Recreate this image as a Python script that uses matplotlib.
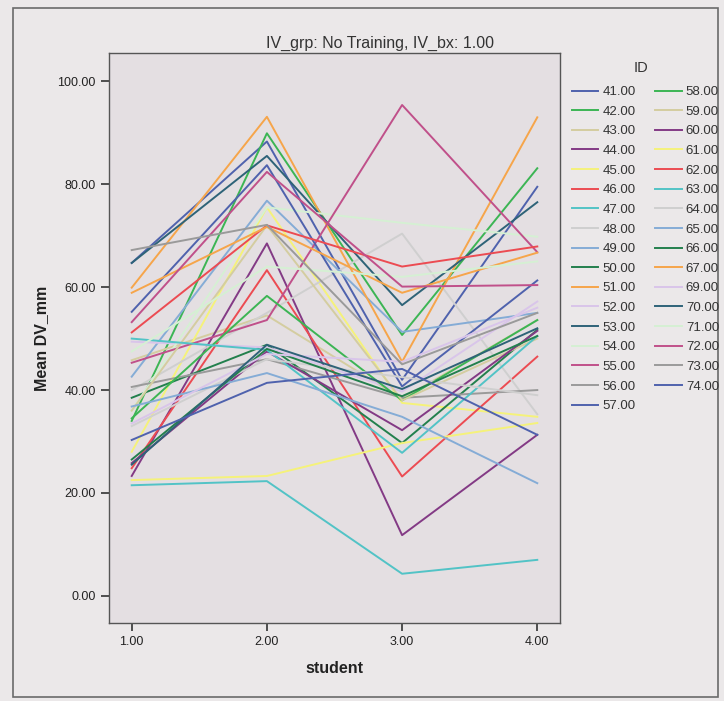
import matplotlib
matplotlib.use("Agg")
import matplotlib.pyplot as plt
from matplotlib.patches import Rectangle

plt.rcParams['font.family'] = ['Liberation Sans', 'DejaVu Sans']

# ---- data ----
student = [1, 2, 3, 4]
ids = ["41.00", "42.00", "43.00", "44.00", "45.00", "46.00", "47.00", "48.00",
       "49.00", "50.00", "51.00", "52.00", "53.00", "54.00", "55.00", "56.00",
       "57.00", "58.00", "59.00", "60.00", "61.00", "62.00", "63.00", "64.00",
       "65.00", "66.00", "67.00", "69.00", "70.00", "71.00", "72.00", "73.00",
       "74.00"]
values = {
    "41.00": [64.7, 88.3, 42.0, 79.5],
    "42.00": [34.0, 89.9, 50.7, 83.1],
    "43.00": [45.8, 54.5, 38.3, 53.6],
    "44.00": [23.3, 68.5, 11.8, 31.3],
    "45.00": [28.0, 75.5, 37.5, 34.8],
    "46.00": [24.8, 63.3, 23.2, 46.5],
    "47.00": [21.5, 22.3, 4.3, 7.0],
    "48.00": [40.0, 55.0, 70.4, 35.3],
    "49.00": [42.6, 76.8, 51.3, 55.0],
    "50.00": [38.5, 48.8, 29.7, 51.7],
    "51.00": [59.9, 93.1, 45.5, 93.0],
    "52.00": [49.4, 48.3, 39.7, 57.2],
    "53.00": [64.7, 85.5, 56.5, 76.5],
    "54.00": [36.0, 75.5, 72.5, 69.8],
    "55.00": [45.3, 53.6, 95.4, 66.8],
    "56.00": [40.6, 46.0, 38.5, 40.0],
    "57.00": [55.2, 83.7, 40.7, 61.3],
    "58.00": [34.5, 58.3, 38.0, 53.6],
    "59.00": [36.0, 72.0, 38.0, 50.0],
    "60.00": [25.8, 47.5, 32.2, 51.5],
    "61.00": [22.5, 23.3, 29.7, 33.6],
    "62.00": [51.2, 72.0, 64.0, 67.9],
    "63.00": [50.0, 47.8, 27.8, 50.5],
    "64.00": [33.0, 46.0, 42.5, 39.0],
    "65.00": [36.8, 43.3, 34.8, 21.9],
    "66.00": [26.5, 48.0, 38.8, 50.5],
    "67.00": [58.9, 71.7, 58.9, 66.7],
    "69.00": [33.5, 47.0, 45.5, 56.0],
    "70.00": [25.5, 48.8, 40.2, 52.0],
    "71.00": [47.5, 64.0, 62.0, 65.0],
    "72.00": [53.2, 82.4, 60.1, 60.4],
    "73.00": [67.2, 72.1, 45.0, 55.0],
    "74.00": [30.3, 41.4, 44.1, 31.3],
}
palette = ['#4f62ad', '#3cb554', '#d4cda0', '#833a85', '#f5f27a', '#ec4b52',
           '#52c3c6', '#cfcfcf', '#85acd6', '#23804d', '#f6a54a', '#d9c5ea',
           '#2e6378', '#d5f0d3', '#c0508a', '#9a9a9a']
xticks = [1, 2, 3, 4]
xticklabels = ["1.00", "2.00", "3.00", "4.00"]
yticks = [0, 20, 40, 60, 80, 100]
yticklabels = ["0.00", "20.00", "40.00", "60.00", "80.00", "100.00"]

# ---- figure ----
W, H = 724, 701
fig = plt.figure(figsize=(W / 100, H / 100), dpi=100)
fig.patch.set_facecolor('#ebe8e9')
fig.patches.append(Rectangle((13 / W, 1 - 697 / H), (718 - 13) / W, (697 - 8) / H,
                             transform=fig.transFigure, fill=False,
                             edgecolor='#6a6a6a', linewidth=1.2))

ax = fig.add_axes([109 / W, 1 - 623 / H, (560 - 109) / W, (623 - 53) / H])
ax.set_facecolor('#e4dfe2')

for i, k in enumerate(ids):
    ax.plot(student, values[k], color=palette[i % 16], linewidth=1.4, label=k)

ax.set_xlim(0.832, 4.168)
ax.set_ylim(-5.27, 105.5)
ax.set_xticks(xticks)
ax.set_xticklabels(xticklabels)
ax.set_yticks(yticks)
ax.set_yticklabels(yticklabels)
ax.tick_params(axis='both', direction='out', length=6, width=1.2,
               colors='#333333', labelsize=9, labelcolor='#222222')
for s in ax.spines.values():
    s.set_color('#555555')
    s.set_linewidth(1.0)

ax.set_xlabel("student", fontsize=11.5, fontweight='bold', color='#222222', labelpad=9)
ax.set_ylabel("Mean DV_mm", fontsize=11.5, fontweight='bold', color='#222222', labelpad=6)

fig.text(380 / W, 1 - 43 / H, "IV_grp: No Training, IV_bx: 1.00", ha='center',
         va='center', fontsize=11.5, color='#333333')

fig.text(641 / W, 1 - 68 / H, "ID", ha='center', va='center',
         fontsize=10.5, color='#333333')
leg = fig.legend(loc='upper left', bbox_to_anchor=(572 / W, 1 - 86 / H),
                 bbox_transform=fig.transFigure, ncol=2, frameon=False,
                 fontsize=9.5, handlelength=2.0, handletextpad=0.33,
                 columnspacing=1.45, labelspacing=0.56, borderaxespad=0,
                 borderpad=0)
for t in leg.get_texts():
    t.set_color('#333333')

fig.savefig("out.png", dpi=100, facecolor=fig.get_facecolor())
